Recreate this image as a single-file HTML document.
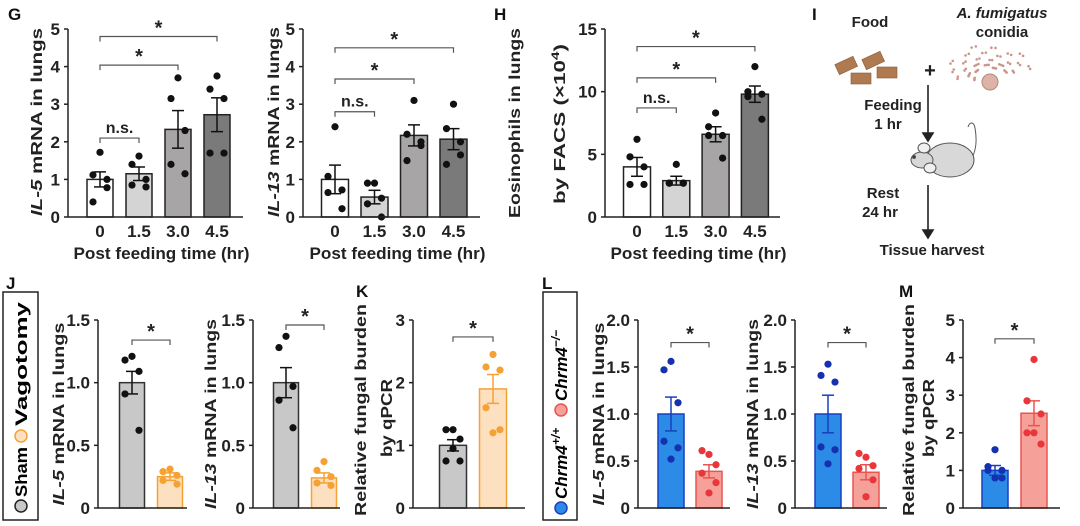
<!DOCTYPE html>
<html><head><meta charset="utf-8"><style>
html,body{margin:0;padding:0;background:#fff;}
svg{display:block;font-family:"Liberation Sans",Arial,sans-serif;font-weight:bold;}
</style></head><body>
<svg id="fig" width="1080" height="526" viewBox="0 0 1080 526" xmlns="http://www.w3.org/2000/svg">
<g font-size="17" fill="#111">
<text x="8" y="20">G</text><text x="494" y="20">H</text><text x="812" y="20">I</text>
<text x="6" y="289">J</text><text x="356" y="297">K</text><text x="542" y="289">L</text><text x="899" y="297">M</text>
</g>
<g>
<rect x="3" y="292" width="35" height="228" fill="none" stroke="#222" stroke-width="1.5"/>
<g transform="translate(27,512) rotate(-90)" font-size="17">
<circle cx="6" cy="-6" r="6" fill="#c8c8c8" stroke="#222" stroke-width="1.5"/>
<text x="15" y="0" textLength="50" lengthAdjust="spacingAndGlyphs">Sham</text>
<circle cx="76" cy="-6" r="6" fill="#fde0c0" stroke="#f5a234" stroke-width="1.5"/>
<text x="86" y="0" textLength="124" lengthAdjust="spacingAndGlyphs">Vagotomy</text></g>
</g>
<g>
<rect x="543" y="292" width="34" height="228" fill="none" stroke="#222" stroke-width="1.5"/>
<g transform="translate(567,514) rotate(-90)" font-size="17">
<circle cx="6" cy="-6" r="6" fill="#2b8be6" stroke="#1a3fc0" stroke-width="1.5"/>
<text x="15" y="0" font-style="italic">Chrm4<tspan dy="-7" font-size="12">+/+</tspan></text>
<circle cx="104" cy="-6" r="6" fill="#f6a09a" stroke="#e85550" stroke-width="1.5"/>
<text x="113" y="0" font-style="italic">Chrm4<tspan dy="-7" font-size="12">−/−</tspan></text></g>
</g>
<g font-size="15" fill="#222" text-anchor="middle">
<text x="870" y="27">Food</text>
<text x="1002" y="18" font-style="italic">A. fumigatus</text>
<text x="1002" y="37">conidia</text>
<g fill="#b07a50" stroke="#8a5a38" stroke-width="0.6">
<rect x="836" y="60" width="20" height="11" transform="rotate(-25 846 65)"/>
<rect x="863" y="55" width="20" height="11" transform="rotate(-25 873 60)"/>
<rect x="851" y="73" width="20" height="11"/>
<rect x="877" y="67" width="20" height="11"/>
</g>
<text x="930" y="77" font-size="20">+</text>
<g id="conidia" fill="#c9968a"></g>
<circle cx="990" cy="82" r="8" fill="#dcb3a6" stroke="#b58879"/>
<text x="893" y="110">Feeding</text><text x="888" y="129">1 hr</text>
<text x="883" y="198">Rest</text><text x="880" y="217">24 hr</text>
<text x="932" y="255">Tissue harvest</text>
<g stroke="#222" stroke-width="1.6" fill="#222">
<line x1="928" y1="85" x2="928" y2="135"/><polygon points="923,133 933,133 928,141"/>
<line x1="928" y1="185" x2="928" y2="232"/><polygon points="923,230 933,230 928,238"/>
</g>
<g fill="#d8d8d8" stroke="#555" stroke-width="1">
<path d="M962,168 C975,160 978,145 975,128 C974,122 970,121 968,127" fill="none"/>
<ellipse cx="950" cy="160" rx="24" ry="17"/>
<ellipse cx="922" cy="160" rx="11" ry="8"/>
<ellipse cx="924" cy="148" rx="6" ry="5" fill="#f0f0f0"/>
<ellipse cx="930" cy="168" rx="6" ry="5" fill="#f0f0f0"/>
<circle cx="914" cy="157" r="1.5" fill="#333"/>
</g>
</g>
<g id="charts"></g>
</svg>
<script>
// ---- data ----
const gCategories = ["0","1.5","3.0","4.5"];
const g1Means = [1.0, 1.15, 2.33, 2.72];
const g1Sem = [0.2, 0.18, 0.5, 0.45];
const g1Points = [[1.72,1.12,0.78,0.4,1.0],[1.62,1.4,1.0,0.85,0.8],[3.7,3.15,2.3,1.4,1.15],[3.75,3.4,3.15,1.7,1.7]];
const g2Means = [1.0, 0.53, 2.17, 2.07];
const g2Sem = [0.38, 0.18, 0.28, 0.28];
const g2Points = [[2.4,1.08,0.72,0.65,0.22],[0.9,0.9,0.5,0.35,0.0],[3.1,2.2,1.9,1.5,2.0],[3.0,2.35,2.0,1.4,1.65]];
const hMeans = [4.0, 2.9, 6.6, 9.8];
const hSem = [0.75, 0.35, 0.6, 0.65];
const hPoints = [[6.2,4.8,4.0,2.6,2.6],[4.2,2.7,2.7,2.7,2.7],[8.3,7.2,6.5,6.5,4.7],[12,10,9.8,9.6,7.8]];
const j1Means = [1.0, 0.25];
const j1Sem = [0.09, 0.03];
const j1Points = [[1.21,1.18,1.09,0.91,0.62],[0.31,0.29,0.26,0.22,0.19]];
const j2Means = [1.0, 0.24];
const j2Sem = [0.12, 0.04];
const j2Points = [[1.37,1.28,0.97,0.86,0.64],[0.37,0.3,0.25,0.2,0.18]];
const kMeans = [1.0, 1.9];
const kSem = [0.09, 0.23];
const kPoints = [[1.25,1.25,1.1,0.75,0.75,0.95],[2.45,2.25,2.2,1.6,1.25,1.2]];
const l1Means = [1.0, 0.39];
const l1Sem = [0.18, 0.07];
const l1Points = [[1.56,1.47,1.12,0.71,0.64,0.52],[0.57,0.61,0.46,0.37,0.27,0.16]];
const l2Means = [1.0, 0.38];
const l2Sem = [0.2, 0.08];
const l2Points = [[1.53,1.41,1.34,0.65,0.62,0.47],[0.54,0.58,0.45,0.42,0.3,0.12]];
const mMeans = [1.0, 2.52];
const mSem = [0.13, 0.33];
const mPoints = [[1.55,1.1,1.0,1.0,0.8,0.8],[3.95,2.85,2.5,2.0,1.7,2.0]];
const ticks5 = ["0","1","2","3","4","5"];
const ticks15 = ["0","5","10","15"];
const ticks15b = ["0","0.5","1.0","1.5"];
const ticks3 = ["0","1","2","3"];
const ticks2 = ["0","0.5","1.0","1.5","2.0"];

const NS="http://www.w3.org/2000/svg";
const root=document.getElementById('charts');
function mk(tag,attrs,parent){const e=document.createElementNS(NS,tag);for(const k in attrs)e.setAttribute(k,attrs[k]);(parent||root).appendChild(e);return e;}
const jit5=[0,-7,7,-7,7], jit6=[0,-7,7,-7,7,0];
function chart(o){
  const g=mk('g',{});
  
  
  const yMax=+o.ticks[o.ticks.length-1];
  const y=v=>o.y0-(v/yMax)*(o.y0-o.yTop);
  const x=i=>o.x0+o.first+i*o.step;
  o.means.forEach((m,i)=>{
    const r=mk('rect',{x:x(i)-o.bw/2,y:y(m),width:o.bw,height:o.y0-y(m),fill:o.fills[i],stroke:o.strokes[i],'stroke-width':1.5},g);
    
    
  });
  o.means.forEach((m,i)=>{
    const c=o.errColors[i];
    mk('line',{x1:x(i),x2:x(i),y1:y(m-o.sem[i]),y2:y(m+o.sem[i]),stroke:c,'stroke-width':1.5},g);
    [m-o.sem[i],m+o.sem[i]].forEach(v=>mk('line',{x1:x(i)-6,x2:x(i)+6,y1:y(v),y2:y(v),stroke:c,'stroke-width':1.5},g));
  });
  o.points.forEach((arr,i)=>{
    const J=arr.length>5?jit6:jit5;
    arr.forEach((v,k)=>{
      const p=mk('circle',{cx:x(i)+J[k],cy:y(v),r:3.6,fill:o.ptColors[i]},g);
      
      
    });
  });
  mk('line',{x1:o.x0,x2:o.x0,y1:o.yTop,y2:o.y0,stroke:'#222','stroke-width':1.5},g);
  mk('line',{x1:o.x0,x2:o.xEnd,y1:o.y0,y2:o.y0,stroke:'#222','stroke-width':1.5},g);
  o.ticks.forEach(t=>{
    mk('line',{x1:o.x0-4,x2:o.x0,y1:y(+t),y2:y(+t),stroke:'#222','stroke-width':1.5},g);
    const tx=mk('text',{x:o.x0-8,y:y(+t)+6,'text-anchor':'end','font-size':17,fill:'#222'},g);
    tx.textContent=t;
  });
  if(o.cats){o.cats.forEach((c,i)=>{const t=mk('text',{x:x(i),y:o.y0+20,'text-anchor':'middle','font-size':17,fill:'#222'},g);t.textContent=c;});}
  if(o.xlabel){const cx=(o.x0+o.xEnd)/2+6;const t=mk('text',{x:cx-88,y:o.y0+42,'font-size':17,fill:'#222',textLength:176,lengthAdjust:'spacingAndGlyphs'},g);t.textContent=o.xlabel;}
  o.ylabels.forEach(l=>{
    const t=mk('text',{transform:`translate(${l.x},${l.cy}) rotate(-90)`,x:-l.len/2,'font-size':16,fill:'#222',textLength:l.len,lengthAdjust:'spacingAndGlyphs'},g);
    
    
    t.innerHTML=l.html;
  });
  o.sig.forEach(s=>{
    const a=x(s.a)+(s.pad||0),b=x(s.b)-(s.pad||0),yy=y(s.v);
    mk('path',{d:`M${a},${yy+5}V${yy}H${b}V${yy+5}`,fill:'none',stroke:'#555','stroke-width':1.2},g);
    const t=mk('text',{x:(a+b)/2,y:s.label==='*'?yy-2:yy-5,'text-anchor':'middle','font-size':s.label==='*'?20:16,fill:'#222'},g);
    t.textContent=s.label;
  });
}
const gFill=['#ffffff','#d4d4d4','#a8a5a7','#7a7a7a'],gStr=['#222','#222','#222','#222'],blk=['#111','#111','#111','#111'];
chart({name:'chart-g-il5',x0:68,xEnd:243,y0:217,yTop:29,first:32,step:39,bw:26,ticks:ticks5,means:g1Means,sem:g1Sem,points:g1Points,fills:gFill,strokes:gStr,errColors:blk,ptColors:blk,cats:gCategories,xlabel:'Post feeding time (hr)',
 ylabels:[{x:42,cy:122,len:188,html:'<tspan font-style="italic">IL-5</tspan> mRNA in lungs'}],
 sig:[{a:0,b:1,v:2.1,label:'n.s.'},{a:0,b:2,v:4.04,label:'*'},{a:0,b:3,v:4.8,label:'*'}]});
chart({name:'chart-g-il13',x0:303,xEnd:480,y0:217,yTop:29,first:32,step:39.5,bw:27,ticks:ticks5,means:g2Means,sem:g2Sem,points:g2Points,fills:gFill,strokes:gStr,errColors:blk,ptColors:blk,cats:gCategories,xlabel:'Post feeding time (hr)',
 ylabels:[{x:279,cy:122,len:190,html:'<tspan font-style="italic">IL-13</tspan> mRNA in lungs'}],
 sig:[{a:0,b:1,v:2.8,label:'n.s.'},{a:0,b:2,v:3.67,label:'*'},{a:0,b:3,v:4.5,label:'*'}]});
chart({name:'chart-h-eosinophils',x0:605,xEnd:780,y0:217,yTop:29,first:32,step:39.3,bw:27,ticks:ticks15,means:hMeans,sem:hSem,points:hPoints,fills:gFill,strokes:gStr,errColors:blk,ptColors:blk,cats:gCategories,xlabel:'Post feeding time (hr)',
 ylabels:[{x:520,cy:123,len:190,html:'Eosinophils in lungs'},{x:565,cy:124,len:160,html:'by FACS (×10<tspan dy="-6" font-size="11">4</tspan><tspan dy="6">)</tspan>'}],
 sig:[{a:0,b:1,v:8.7,label:'n.s.'},{a:0,b:2,v:11.1,label:'*'},{a:0,b:3,v:13.6,label:'*'}]});
const jF=['#c8c8c8','#fde0c0'],jS=['#333','#f5a234'],jP=['#111','#f5a234'];
chart({name:'chart-j-il5',x0:98,xEnd:187,y0:508,yTop:320,first:34,step:38,bw:25,ticks:ticks15b,means:j1Means,sem:j1Sem,points:j1Points,fills:jF,strokes:jS,errColors:jP,ptColors:jP,
 ylabels:[{x:64,cy:414,len:183,html:'<tspan font-style="italic">IL-5</tspan> mRNA in lungs'}],sig:[{a:0,b:1,v:1.34,label:'*'}]});
chart({name:'chart-j-il13',x0:253,xEnd:340,y0:508,yTop:320,first:33,step:38,bw:25,ticks:ticks15b,means:j2Means,sem:j2Sem,points:j2Points,fills:jF,strokes:jS,errColors:jP,ptColors:jP,
 ylabels:[{x:216,cy:414,len:190,html:'<tspan font-style="italic">IL-13</tspan> mRNA in lungs'}],sig:[{a:0,b:1,v:1.46,label:'*'}]});
chart({name:'chart-k-fungal',x0:413,xEnd:525,y0:508,yTop:320,first:40,step:40,bw:27,ticks:ticks3,means:kMeans,sem:kSem,points:kPoints,fills:jF,strokes:jS,errColors:jP,ptColors:jP,
 ylabels:[{x:366,cy:410,len:212,html:'Relative fungal burden'},{x:392,cy:418,len:78,html:'by qPCR'}],sig:[{a:0,b:1,v:2.73,label:'*'}]});
const lF=['#2b8be6','#f6a09a'],lS=['#1a3fc0','#e85550'],lP=['#1530b0','#e8363a'];
chart({name:'chart-l-il5',x0:638,xEnd:730,y0:508,yTop:320,first:33,step:38,bw:26,ticks:ticks2,means:l1Means,sem:l1Sem,points:l1Points,fills:lF,strokes:lS,errColors:lS,ptColors:lP,
 ylabels:[{x:604,cy:414,len:183,html:'<tspan font-style="italic">IL-5</tspan> mRNA in lungs'}],sig:[{a:0,b:1,v:1.76,label:'*'}]});
chart({name:'chart-l-il13',x0:795,xEnd:887,y0:508,yTop:320,first:33,step:38,bw:26,ticks:ticks2,means:l2Means,sem:l2Sem,points:l2Points,fills:lF,strokes:lS,errColors:lS,ptColors:lP,
 ylabels:[{x:758,cy:414,len:190,html:'<tspan font-style="italic">IL-13</tspan> mRNA in lungs'}],sig:[{a:0,b:1,v:1.76,label:'*'}]});
chart({name:'chart-m-fungal',x0:963,xEnd:1060,y0:508,yTop:320,first:32,step:39,bw:26,ticks:ticks5,means:mMeans,sem:mSem,points:mPoints,fills:lF,strokes:lS,errColors:lS,ptColors:lP,
 ylabels:[{x:914,cy:410,len:212,html:'Relative fungal burden'},{x:934,cy:418,len:78,html:'by qPCR'}],sig:[{a:0,b:1,v:4.5,label:'*'}]});
const cg=document.getElementById('conidia');
for(let a=0;a<60;a++){const ang=Math.PI*(1.05+0.9*((a*37)%60)/60)-Math.PI*0.05;const rr=12+((a*53)%26);
 mk('circle',{cx:990+Math.cos(ang)*rr*1.3,cy:80+Math.sin(ang)*rr*0.95,r:1.3},cg);}
</script>
</body></html>
